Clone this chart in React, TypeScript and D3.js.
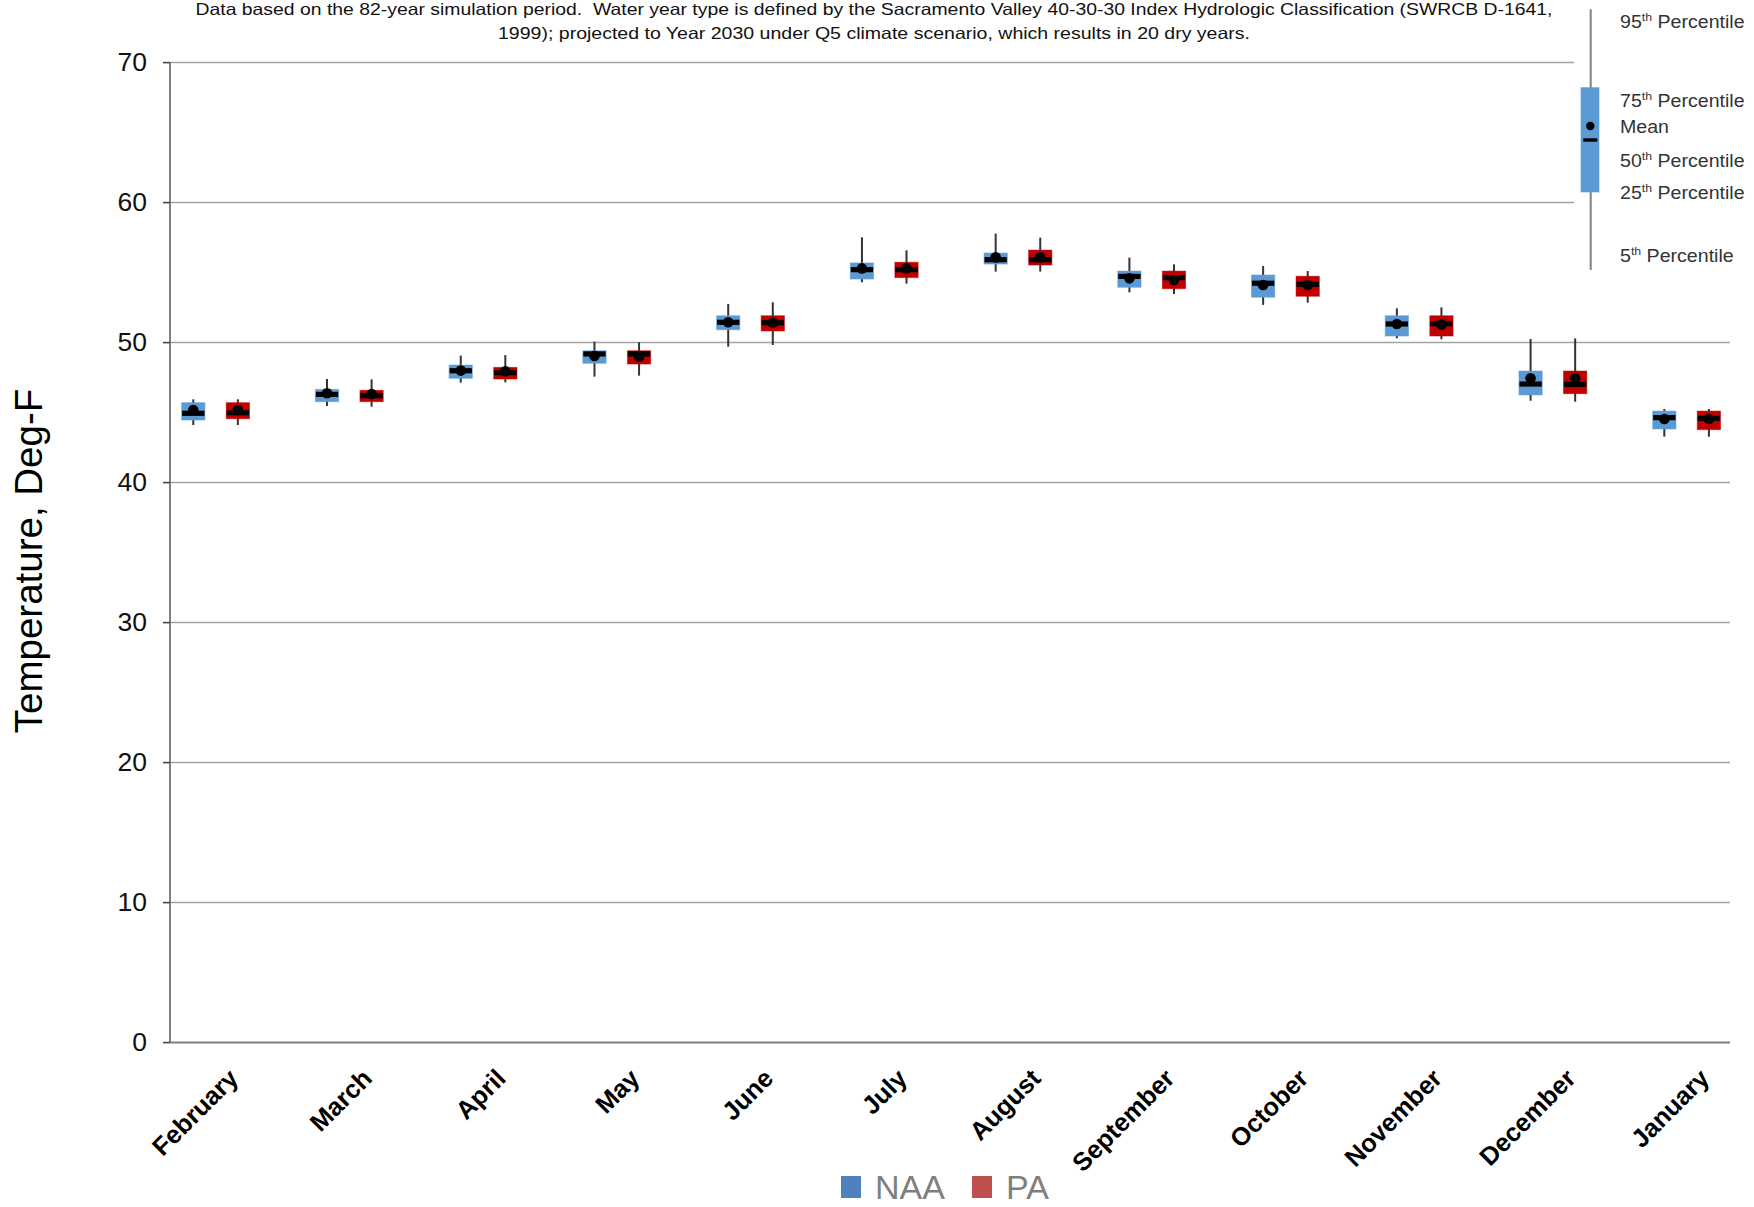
import React from "react";
import * as d3 from "d3";

const months = ["February","March","April","May","June","July","August","September","October","November","December","January"];

const naaP5 =  [44.11, 45.47, 47.14, 47.57, 49.71, 54.31, 55.07, 53.59, 52.69, 50.31, 45.85, 43.28];
const naaP25 = [44.47, 45.78, 47.45, 48.52, 50.92, 54.54, 55.61, 53.95, 53.24, 50.47, 46.26, 43.83];
const naaP50 = [44.95, 46.30, 47.99, 49.19, 51.45, 55.21, 55.92, 54.73, 54.24, 51.33, 47.04, 44.64];
const naaP75 = [45.71, 46.66, 48.40, 49.42, 51.92, 55.69, 56.40, 55.11, 54.83, 51.92, 47.97, 45.11];
const naaP95 = [45.95, 47.40, 49.07, 50.07, 52.76, 57.52, 57.78, 56.07, 55.47, 52.45, 50.26, 45.26];
const naaMean =[45.19, 46.38, 48.00, 49.04, 51.45, 55.30, 56.09, 54.59, 54.11, 51.33, 47.45, 44.54];

const paP5 =   [44.11, 45.42, 47.16, 47.64, 49.83, 54.21, 55.07, 53.47, 52.85, 50.24, 45.78, 43.28];
const paP25 =  [44.56, 45.78, 47.40, 48.47, 50.83, 54.64, 55.54, 53.85, 53.31, 50.47, 46.35, 43.78];
const paP50 =  [44.99, 46.21, 47.85, 49.19, 51.42, 55.21, 55.92, 54.64, 54.16, 51.35, 47.02, 44.59];
const paP75 =  [45.71, 46.59, 48.23, 49.42, 51.92, 55.74, 56.61, 55.11, 54.74, 51.92, 47.97, 45.11];
const paP95 =  [45.95, 47.37, 49.11, 50.02, 52.88, 56.59, 57.50, 55.59, 55.11, 52.52, 50.30, 45.26];
const paMean = [45.19, 46.33, 47.95, 48.99, 51.42, 55.30, 56.09, 54.47, 54.11, 51.30, 47.45, 44.54];

const yTicks = [0, 10, 20, 30, 40, 50, 60, 70];

const titleLine1 = "Data based on the 82-year simulation period.  Water year type is defined by the Sacramento Valley 40-30-30 Index Hydrologic Classification (SWRCB D-1641,";
const titleLine2 = "1999); projected to Year 2030 under Q5 climate scenario, which results in 20 dry years.";

const series = [
  { name: "NAA", color: "#5b9bd5", legendColor: "#4f81bd", slot: 1 / 6, p5: naaP5, p25: naaP25, p50: naaP50, p75: naaP75, p95: naaP95, mean: naaMean },
  { name: "PA", color: "#c00000", legendColor: "#c0504d", slot: 1 / 2, p5: paP5, p25: paP25, p50: paP50, p75: paP75, p95: paP95, mean: paMean },
];

const legendItems = [
  { n: "95", sup: "th", rest: " Percentile", y: 28.3 },
  { n: "75", sup: "th", rest: " Percentile", y: 106.7 },
  { n: "Mean", sup: "", rest: "", y: 133.3 },
  { n: "50", sup: "th", rest: " Percentile", y: 166.7 },
  { n: "25", sup: "th", rest: " Percentile", y: 199.3 },
  { n: "5", sup: "th", rest: " Percentile", y: 261.7 },
];

export default function App() {
  const W = 1754, H = 1207;
  const left = 170, right = 1730;
  const y = d3.scaleLinear().domain([0, 70]).range([1042.6, 62.6]);
  const x = d3.scaleBand().domain(months).range([171, 171 + 12 * 133.73]).padding(0);
  const bw = x.bandwidth();
  const boxW = 23.3;
  const font = "'Liberation Sans', Arial, sans-serif";

  return (
    <svg width={W} height={H} style={{ position: "absolute", left: 0, top: 0, background: "#fff" }} fontFamily={font}>
      <rect x={0} y={0} width={W} height={H} fill="#fff" />
      {yTicks.filter(t => t > 0).map(t => (
        <line key={t} x1={left} x2={t >= 60 ? 1574 : right} y1={y(t)} y2={y(t)} stroke="#a3a3a3" strokeWidth={1.5} />
      ))}
      <line x1={left} x2={left} y1={y(70)} y2={y(0)} stroke="#7f7f7f" strokeWidth={2} />
      <line x1={left} x2={right} y1={y(0)} y2={y(0)} stroke="#7f7f7f" strokeWidth={2} />
      {yTicks.map(t => (
        <g key={t}>
          <line x1={163} x2={left} y1={y(t)} y2={y(t)} stroke="#404040" strokeWidth={1.5} />
          <g transform={`translate(147,${y(t)}) scale(1.06,1)`}>
            <text x={0} y={0} dy="0.35em" textAnchor="end" fontSize={25} fill="#111">{t}</text>
          </g>
        </g>
      ))}
      <text transform={`translate(41.5,561) rotate(-90)`} textAnchor="middle" fontSize={38.5} fill="#000">Temperature, Deg-F</text>
      <text x={874} y={14.5} textAnchor="middle" fontSize={16.5} fill="#111" textLength={1357} lengthAdjust="spacingAndGlyphs" style={{ whiteSpace: "pre" }}>{titleLine1}</text>
      <text x={874} y={39} textAnchor="middle" fontSize={16.5} fill="#111" textLength={752} lengthAdjust="spacingAndGlyphs">{titleLine2}</text>
      {series.map(s => (
        <g key={s.name}>
          {months.map((m, i) => {
            const cx = (x(m) as number) + bw * s.slot;
            return (
              <g key={m}>
                <line x1={cx} x2={cx} y1={y(s.p95[i])} y2={y(s.p5[i])} stroke="#333" strokeWidth={2} />
                <rect x={cx - boxW / 2} width={boxW} y={y(s.p75[i])} height={y(s.p25[i]) - y(s.p75[i])} fill={s.color} stroke={s.color} strokeOpacity={0.5} strokeWidth={1} />
                <rect x={cx - boxW / 2 + 0.5} width={boxW - 1} y={y(s.p50[i]) - 2.6} height={5.2} fill="#000" />
                <circle cx={cx} cy={y(s.mean[i])} r={5.3} fill="#000" />
              </g>
            );
          })}
        </g>
      ))}
      {months.map(m => {
        const ax = (x(m) as number) + bw / 2 + 2;
        return (
          <text key={m} transform={`translate(${ax},1080) rotate(-45)`} textAnchor="end" fontSize={25.5} fontWeight="bold" fill="#000">{m}</text>
        );
      })}
      <rect x={1574} y={0} width={180} height={285} fill="#fff" />
      <line x1={1590.7} x2={1590.7} y1={9.3} y2={270} stroke="#808080" strokeWidth={2} />
      <rect x={1580.7} y={87.3} width={18.6} height={105} fill="#5b9bd5" />
      <circle cx={1590.3} cy={126} r={4.2} fill="#000" />
      <rect x={1583.3} y={138.3} width={14} height={3.4} fill="#000" />
      {legendItems.map(it => (
        <g key={it.y} transform={`translate(1620,${it.y}) scale(1.12,1)`}>
          <text x={0} y={0} fontSize={17.5} fill="#333">
            {it.n}
            {it.sup ? <tspan fontSize={11} dy={-7}>{it.sup}</tspan> : null}
            {it.rest ? <tspan dy={it.sup ? 7 : 0}>{it.rest}</tspan> : null}
          </text>
        </g>
      ))}
      {series.map((s, i) => {
        const lx = i === 0 ? 841 : 972;
        return (
          <g key={s.name}>
            <rect x={lx} y={1176} width={20} height={22} fill={s.legendColor} />
            <text x={lx + 34} y={1199} fontSize={34} fill="#7f7f7f">{s.name}</text>
          </g>
        );
      })}
    </svg>
  );
}
